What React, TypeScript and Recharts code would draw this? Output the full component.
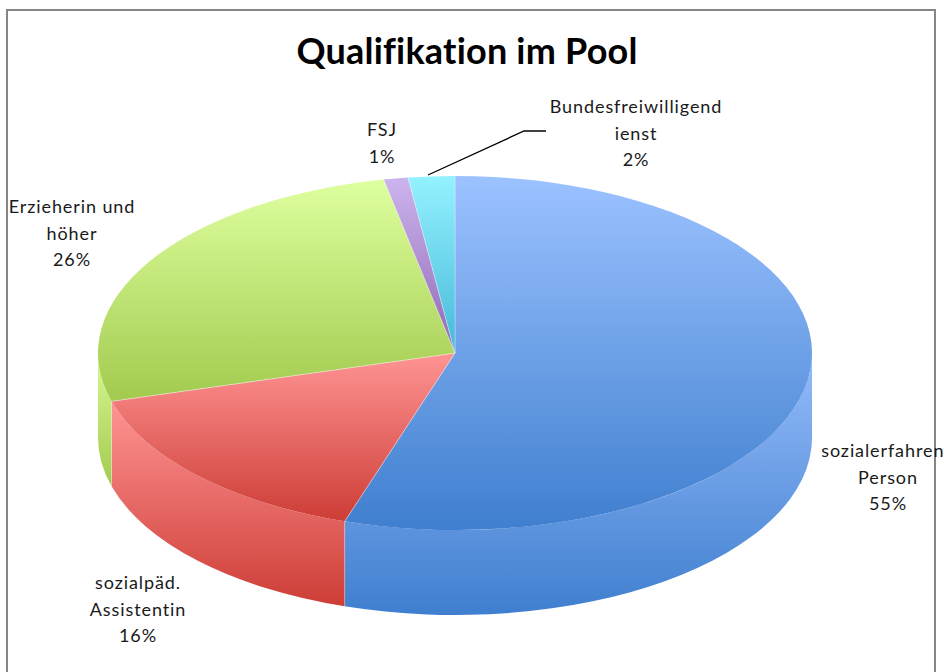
import React from 'react';
import { PieChart, Pie } from 'recharts';

const categories = ['sozialerfahrene Person', 'sozialpäd. Assistentin', 'Erzieherin und höher', 'FSJ', 'Bundesfreiwilligendienst'];
const values = [55.0, 15.6, 26.2, 1.1, 2.1];
const labelLines = [
  ['sozialerfahrene', 'Person'],
  ['sozialpäd.', 'Assistentin'],
  ['Erzieherin und', 'höher'],
  ['FSJ'],
  ['Bundesfreiwilligend', 'ienst'],
];
const chartData = categories.map((name, i) => ({ name, value: values[i] }));

const topColors = [
  ['#9cc2ff', '#3f7fcf'],
  ['#ff9494', '#cd3d36'],
  ['#deff9f', '#a2ca4e'],
  ['#ccb4ee', '#9068b4'],
  ['#94f2ff', '#46b8d8'],
];
const wallColors = [
  ['#95bbfa', '#3f7fcf'],
  ['#ff9494', '#cd3d36'],
  ['#d8f994', '#a2ca4e'],
  ['#ccb4ee', '#9068b4'],
  ['#94f2ff', '#46b8d8'],
];

// where the text of each slice sits: centre x and baseline of the first line
const labelSpots = [
  { x: 888, y: 457 },
  { x: 138, y: 589 },
  { x: 72, y: 213 },
  { x: 382, y: 136 },
  { x: 636, y: 113 },
];

const CX = 455;
const CY = 353;
const RX = 357;
const SQUASH = 177 / 357;
const DEPTH = 85;
const RAD = Math.PI / 180;

const rim = (rx: number, a: number, dy = 0) => ({
  x: CX + rx * Math.cos(a * RAD),
  y: CY + dy - rx * SQUASH * Math.sin(a * RAD),
});

const TopSlice = (props: any) => {
  const { outerRadius: r, startAngle, endAngle, index } = props;
  const p1 = rim(r, startAngle);
  const p2 = rim(r, endAngle);
  const large = Math.abs(startAngle - endAngle) > 180 ? 1 : 0;
  return (
    <g>
      <path
        d={`M${CX},${CY} L${p1.x},${p1.y} A${r},${r * SQUASH} 0 ${large} 1 ${p2.x},${p2.y} Z`}
        fill={`url(#top${index})`}
      />
      <path
        d={`M${p1.x},${p1.y} L${CX},${CY} L${p2.x},${p2.y}`}
        fill="none"
        stroke="rgba(255,255,255,0.3)"
        strokeWidth={1}
      />
    </g>
  );
};

// side wall: only the part of the rim that faces the viewer
const WallSlice = (props: any) => {
  const { outerRadius: r, startAngle, endAngle, index } = props;
  const a1 = Math.min(startAngle, 0);
  const a2 = Math.max(endAngle, -180);
  if (a1 <= a2) return <g />;
  const t1 = rim(r, a1);
  const t2 = rim(r, a2);
  const b1 = rim(r, a1, DEPTH);
  const b2 = rim(r, a2, DEPTH);
  const ry = r * SQUASH;
  return (
    <g>
      <path
        d={`M${t1.x},${t1.y} A${r},${ry} 0 0 1 ${t2.x},${t2.y} L${b2.x},${b2.y} A${r},${ry} 0 0 0 ${b1.x},${b1.y} Z`}
        fill={`url(#wall${index})`}
      />
      {a1 === startAngle && (
        <line x1={t1.x} y1={t1.y} x2={b1.x} y2={b1.y} stroke="rgba(255,255,255,0.3)" strokeWidth={1} />
      )}
    </g>
  );
};

const SliceLabel = (props: any) => {
  const { index, percent } = props;
  const spot = labelSpots[index];
  const lines = [...labelLines[index], `${Math.round(percent * 100)}%`];
  return (
    <g>
      {index === 4 && (
        <polyline points="428,175 524,131 546,131" fill="none" stroke="#000" strokeWidth={1.3} />
      )}
      <text
        textAnchor="middle"
        fill="#1a1a1a"
        style={{ fontFamily: 'Lato', fontSize: 18, letterSpacing: 0.9 }}
      >
        {lines.map((line, i) => (
          <tspan key={i} x={spot.x} y={spot.y + i * 26.6}>
            {line}
          </tspan>
        ))}
      </text>
    </g>
  );
};

const gradient = (id: string, stops: string[]) => (
  <linearGradient key={id} id={id} x1="0" y1="0" x2="0" y2="1">
    <stop offset="0%" stopColor={stops[0]} />
    <stop offset="100%" stopColor={stops[1]} />
  </linearGradient>
);

export default function App() {
  return (
    <div style={{ position: 'absolute', left: 0, top: 0, width: 944, height: 672, overflow: 'hidden', background: '#fff' }}>
      <div
        style={{
          position: 'absolute',
          left: 6,
          top: 9,
          width: 926,
          height: 680,
          border: '2px solid #868686',
        }}
      />
      <div
        style={{
          position: 'absolute',
          left: 0,
          top: 28,
          width: 934,
          textAlign: 'center',
          fontFamily: 'Lato',
          fontWeight: 700,
          fontSize: 36,
          lineHeight: '44px',
          fontVariantLigatures: 'none',
          letterSpacing: 0.2,
          color: '#000',
        }}
      >
        Qualifikation im Pool
      </div>
      <div style={{ position: 'absolute', left: 0, top: 0 }}>
        <PieChart width={944} height={672} margin={{ top: 0, right: 0, bottom: 0, left: 0 }}>
          <defs>
            {topColors.map((c, i) => gradient(`top${i}`, c))}
            {wallColors.map((c, i) => gradient(`wall${i}`, c))}
          </defs>
          <Pie
            data={chartData}
            dataKey="value"
            nameKey="name"
            cx={CX}
            cy={CY}
            outerRadius={RX}
            startAngle={90}
            endAngle={-270}
            shape={WallSlice}
            stroke="none"
            isAnimationActive={false}
          />
          <Pie
            data={chartData}
            dataKey="value"
            nameKey="name"
            cx={CX}
            cy={CY}
            outerRadius={RX}
            startAngle={90}
            endAngle={-270}
            shape={TopSlice}
            stroke="none"
            label={SliceLabel}
            labelLine={false}
            isAnimationActive={false}
          />
        </PieChart>
      </div>
    </div>
  );
}
